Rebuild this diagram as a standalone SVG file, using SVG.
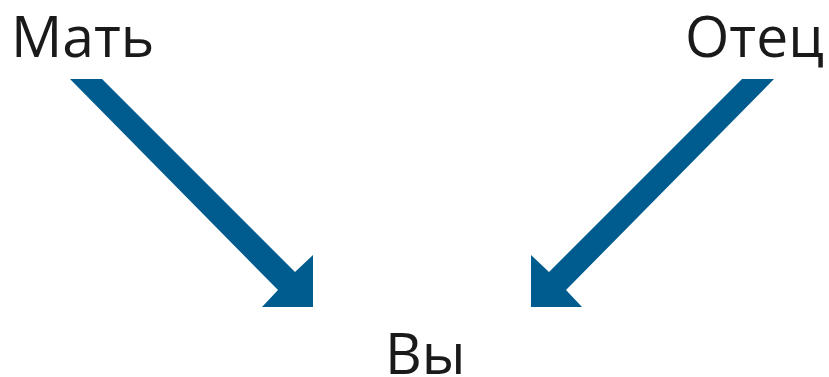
<svg xmlns="http://www.w3.org/2000/svg" width="829" height="377" viewBox="0 0 829 377">
<style>
.lbl{font-family:"Open Sans","Noto Sans","Liberation Sans",sans-serif;font-size:57px;fill:#1a1a1a}
.arr{fill:#005b8f}
</style>
<rect width="829" height="377" fill="#ffffff"/>
<g id="connectors">
<polygon class="arr" points="70,79 102,79 295,272 313,255 313,307 262,307 278,290"/>
<polygon class="arr" points="774,79 742,79 549,272 531,255 531,307 582,307 566,290"/>
</g>
<g id="node-mother"><text class="lbl" x="11" y="57">Мать</text></g>
<g id="node-father"><text class="lbl" x="685" y="57">Отец</text></g>
<g id="node-you"><text class="lbl" x="385" y="374">Вы</text></g>
</svg>
